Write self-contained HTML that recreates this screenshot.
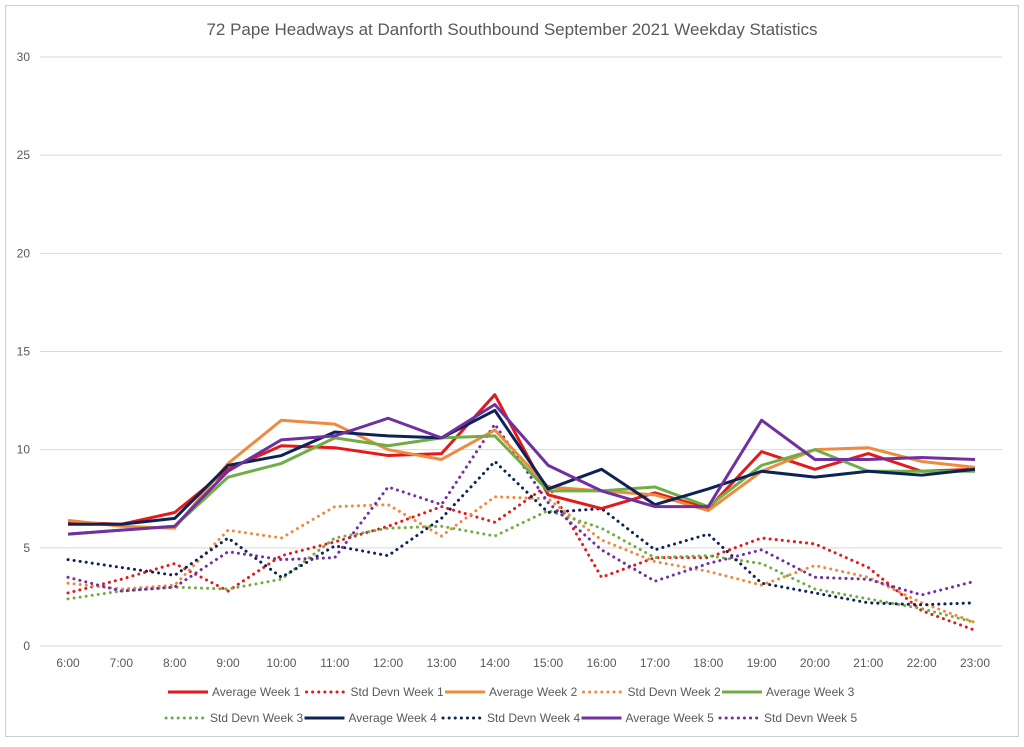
<!DOCTYPE html>
<html><head><meta charset="utf-8"><style>
body{margin:0;background:#fff;font-family:"Liberation Sans",sans-serif;}
svg text{font-family:"Liberation Sans",sans-serif;}
</style></head><body>
<svg id="c" width="1024" height="742">
<rect x="5.5" y="5.5" width="1013" height="731" fill="#fff" stroke="#d0d0d0"/>
<text x="512" y="35" text-anchor="middle" font-size="17" fill="#595959">72 Pape Headways at Danforth Southbound September 2021 Weekday Statistics</text>
<g id="grid"></g><g id="series"></g><g id="legend"></g>
</svg>
<script>
const categories=["6:00","7:00","8:00","9:00","10:00","11:00","12:00","13:00","14:00","15:00","16:00","17:00","18:00","19:00","20:00","21:00","22:00","23:00"];
const yTicks=[0,5,10,15,20,25,30];
const avgW1=[6.3,6.2,6.8,9.0,10.2,10.1,9.7,9.8,12.8,7.7,7.0,7.8,7.0,9.9,9.0,9.8,8.9,9.0];
const sdW1=[2.7,3.4,4.2,2.8,4.6,5.3,6.1,7.1,6.3,8.2,3.5,4.5,4.5,5.5,5.2,4.0,1.8,0.8];
const avgW2=[6.4,6.1,6.0,9.3,11.5,11.3,10.0,9.5,11.0,8.1,7.9,7.7,6.9,8.9,10.0,10.1,9.4,9.1];
const sdW2=[3.2,2.9,3.1,5.9,5.5,7.1,7.2,5.6,7.6,7.5,5.4,4.3,3.8,3.1,4.1,3.5,2.2,1.2];
const avgW3=[5.7,5.9,6.1,8.6,9.3,10.6,10.2,10.6,10.7,7.9,7.9,8.1,7.1,9.2,10.0,8.9,8.9,8.9];
const sdW3=[2.4,2.8,3.0,2.9,3.4,5.5,6.0,6.1,5.6,6.9,6.0,4.5,4.6,4.2,2.9,2.4,1.9,1.2];
const avgW4=[6.2,6.2,6.5,9.2,9.7,10.9,10.7,10.6,12.0,8.0,9.0,7.2,8.0,8.9,8.6,8.9,8.7,9.0];
const sdW4=[4.4,4.0,3.6,5.5,3.5,5.1,4.6,6.5,9.4,6.8,7.0,4.9,5.7,3.2,2.7,2.2,2.1,2.2];
const avgW5=[5.7,5.9,6.1,8.9,10.5,10.7,11.6,10.6,12.3,9.2,7.9,7.1,7.1,11.5,9.5,9.5,9.6,9.5];
const sdW5=[3.5,2.8,3.0,4.8,4.4,4.5,8.1,7.2,11.3,7.3,4.9,3.3,4.2,4.9,3.5,3.4,2.6,3.3];
const NS="http://www.w3.org/2000/svg";
const x=i=>68+i*(975-68)/(categories.length-1);
const y=v=>646-v*(646-57)/30;
function mk(t,a,p){const e=document.createElementNS(NS,t);for(const k in a)e.setAttribute(k,a[k]);p.appendChild(e);return e;}
const grid=document.getElementById('grid');
yTicks.forEach(v=>{
 const l=mk('line',{x1:40,x2:1002,y1:y(v),y2:y(v),stroke:'#d9d9d9','stroke-width':1},grid);
 
 
 const t=mk('text',{x:30,y:y(v)+4,'text-anchor':'end','font-size':12,fill:'#595959'},grid);
 t.textContent=v;
 
 
});
categories.forEach((c,i)=>{
 const t=mk('text',{x:x(i),y:667,'text-anchor':'middle','font-size':12,fill:'#595959'},grid);
 t.textContent=c;
 
 
});
const series=[
 ["Average Week 1",avgW1,"#e31a1c",false],["Std Devn Week 1",sdW1,"#e31a1c",true],
 ["Average Week 2",avgW2,"#ed8b3f",false],["Std Devn Week 2",sdW2,"#ed8b3f",true],
 ["Average Week 3",avgW3,"#70ad47",false],["Std Devn Week 3",sdW3,"#70ad47",true],
 ["Average Week 4",avgW4,"#0d2257",false],["Std Devn Week 4",sdW4,"#0d2257",true],
 ["Average Week 5",avgW5,"#7030a0",false],["Std Devn Week 5",sdW5,"#7030a0",true]];
const sg=document.getElementById('series'),lg=document.getElementById('legend');
const order=[1,3,5,7,9,0,2,4,6,8];
order.forEach(k=>{
 const [n,d,col,dot]=series[k];
 const p=mk('polyline',{points:d.map((v,i)=>x(i)+','+y(v)).join(' '),fill:'none',stroke:col,'stroke-width':3,'stroke-linejoin':'round','stroke-linecap':dot?'round':'butt','stroke-dasharray':dot?'0.1 6':'none'},sg);
 
 
});
series.forEach(([n,d,col,dot],k)=>{
 const row=k<5?0:1,ci=k<5?k:k-5;
 const lx=(row?166:168)+ci*138.5,ly=row?718:692;
 const g=mk('g',{},lg);
 
 
 mk('line',{x1:lx,x2:lx+40,y1:ly,y2:ly,stroke:col,'stroke-width':3,'stroke-linecap':dot?'round':'butt','stroke-dasharray':dot?'0.1 6':'none'},g);
 const t=mk('text',{x:lx+44,y:ly+4,'font-size':12,fill:'#595959'},g);
 t.textContent=n;
});
</script>
</body></html>
